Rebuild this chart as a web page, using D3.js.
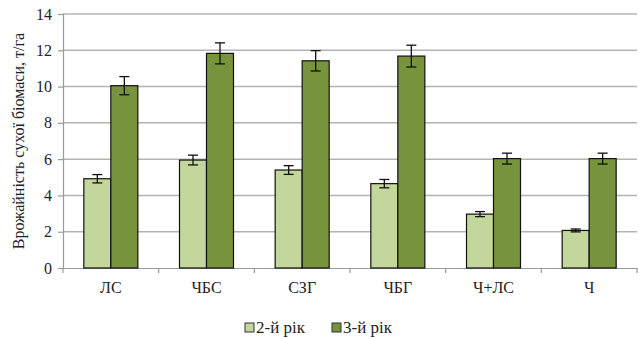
<!DOCTYPE html>
<html><head><meta charset="utf-8">
<script src="https://cdn.jsdelivr.net/npm/d3@7"></script>
<style>body{margin:0;background:#fff}svg{display:block}</style>
</head><body>
<div id="chart"></div>
<script>
const categories = ["ЛС","ЧБС","СЗГ","ЧБГ","Ч+ЛС","Ч"];
const seriesNames = ["2-й рік","3-й рік"];
const year2 = [4.92, 5.95, 5.4, 4.65, 2.97, 2.07];
const year2Err = [0.23, 0.27, 0.24, 0.23, 0.14, 0.08];
const year3 = [10.05, 11.83, 11.42, 11.68, 6.03, 6.03];
const year3Err = [0.5, 0.58, 0.56, 0.6, 0.3, 0.3];
const yTicks = [0,2,4,6,8,10,12,14];
const colors = ["#c3d69b","#77933c"];

const FONT = "Liberation Serif, Times New Roman, DejaVu Serif, serif";
const W=639,H=338;
const m={l:63,r:2,t:14,b:70};
const svg=d3.select("#chart").append("svg").attr("width",W).attr("height",H)
  .attr("font-family",FONT);
const x=d3.scaleBand().domain(categories).range([m.l,W-m.r]);
const y=d3.scaleLinear().domain([0,14]).range([H-m.b,m.t]);
const bw=27;
const ff=sel=>sel.attr("font-family",FONT).style("font-family",FONT);

// grid
svg.append("g").selectAll("line").data(yTicks.filter(d=>d>0)).join("line")
 .attr("x1",m.l).attr("x2",W-m.r).attr("y1",d=>y(d)).attr("y2",d=>y(d))
 .attr("stroke","#b3b3b3").attr("stroke-width",1.5);

// y axis
const ya=svg.append("g").attr("transform",`translate(${m.l},0)`)
 .call(d3.axisLeft(y).tickValues(yTicks).tickSize(5).tickPadding(6));
ya.call(ff).attr("font-size",16);
ya.selectAll("path,line").attr("stroke","#999").attr("stroke-width",1.2);
ya.selectAll("text").call(ff).attr("font-size",16).attr("fill","#222");

// x axis
const xa=svg.append("g").attr("transform",`translate(0,${y(0)})`)
 .call(d3.axisBottom(x).tickSize(0).tickPadding(14));
xa.call(ff).attr("font-size",16);
xa.select("path").attr("stroke","#999").attr("stroke-width",1.2);
xa.selectAll("text").call(ff).attr("font-size",16).attr("fill","#222");
svg.append("g").selectAll("line").data(categories.concat(["__end"])).join("line")
 .attr("x1",(d,i)=>m.l+i*x.step()).attr("x2",(d,i)=>m.l+i*x.step())
 .attr("y1",y(0)).attr("y2",y(0)+5).attr("stroke","#999").attr("stroke-width",1.2);

const series=[{v:year2,e:year2Err},{v:year3,e:year3Err}];
series.forEach((s,si)=>{
  const g=svg.append("g");
  const cx=(c)=>x(c)+x.bandwidth()/2-bw+si*bw;
  g.selectAll("rect").data(categories).join("rect")
   .attr("x",c=>cx(c)).attr("width",bw)
   .attr("y",(c,i)=>y(s.v[i])).attr("height",(c,i)=>y(0)-y(s.v[i]))
   .attr("fill",colors[si]).attr("stroke","#111").attr("stroke-width",1.2);
  categories.forEach((c,i)=>{
    const mx=cx(c)+bw/2, t=y(s.v[i]+s.e[i]), b=y(s.v[i]-s.e[i]);
    g.append("line").attr("x1",mx).attr("x2",mx).attr("y1",t).attr("y2",b).attr("stroke","#111").attr("stroke-width",1.3);
    [t,b].forEach(yy=>g.append("line").attr("x1",mx-5).attr("x2",mx+5).attr("y1",yy).attr("y2",yy).attr("stroke","#111").attr("stroke-width",1.3));
  });
});

// y label
svg.append("text").attr("transform",`translate(24,${(y(0)+y(14))/2}) rotate(-90)`)
 .attr("text-anchor","middle").attr("font-size",16).attr("fill","#222").call(ff)
 .text("Врожайність сухої біомаси, т/га");

// legend
const lg=svg.append("g");
const lx=[245,332];
seriesNames.forEach((n,i)=>{
  lg.append("rect").attr("x",lx[i]).attr("y",323).attr("width",9).attr("height",9)
    .attr("fill",colors[i]).attr("stroke","#333").attr("stroke-width",1);
  lg.append("text").attr("x",lx[i]+11).attr("y",333).attr("font-size",17).attr("fill","#222").call(ff).text(n);
});
</script>
</body></html>
